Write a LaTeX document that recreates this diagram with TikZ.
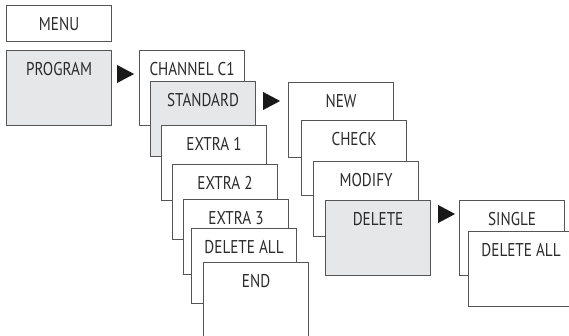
\documentclass[tikz,border=0pt]{standalone}
\usepackage{fontspec}
\setmainfont{PT Sans}[FakeStretch=0.82]
\usetikzlibrary{positioning}
\usetikzlibrary{calc}
\definecolor{boxline}{HTML}{555555}
\definecolor{selfill}{HTML}{E6E7E8}
\definecolor{boxtext}{HTML}{2B2B2B}
\tikzset{
  menubox/.style={draw=boxline, fill=white, line width=1.1pt, anchor=north west,
    minimum width=105pt, inner xsep=0pt, inner ysep=4pt,
    text height=21pt, text depth=46pt, text=boxtext,
    font=\fontsize{18.5}{21}\selectfont},
  selbox/.style={menubox, fill=selfill},
  topbox/.style={menubox, inner ysep=0pt, text height=, text depth=, minimum height=36pt},
  pointer/.style={fill=black!90}
}
\newcommand\pointer[1]{\fill[pointer] #1 -- ++(17,9) -- ++(-17,9) -- cycle;}

\begin{document}
\begin{tikzpicture}[x=1pt,y=-1pt]
  \clip (0,0) rectangle (569,336);
  \node[topbox] (menu) at (6,5) {MENU};
  \node[selbox] (program) at (6,50) {PROGRAM};

  \node[menubox] (channel) at (139,50) {CHANNEL C1};
  \node[selbox] (standard) at (150,81) {STANDARD};
  \node[menubox] (extra1) at (161,125) {EXTRA 1};
  \node[menubox] (extra2) at (172,164) {EXTRA 2};
  \node[menubox] (extra3) at (183,199) {EXTRA 3};
  \node[menubox] (delall) at (191,228) {DELETE ALL};
  \node[menubox] (end) at (203,262) {END};

  \node[menubox] (new) at (288,82) {NEW};
  \node[menubox] (check) at (301,120) {CHECK};
  \node[menubox] (modify) at (313,161) {MODIFY};
  \node[selbox] (delete) at (325,200) {DELETE};

  \node[menubox] (single) at (459,200) {SINGLE};
  \node[menubox] (delall2) at (468,231) {DELETE ALL};

  \pointer{([xshift=5pt,yshift=-15pt]program.north east)}
  \pointer{([xshift=7pt,yshift=-11pt]standard.north east)}
  \pointer{([xshift=7pt,yshift=-5pt]delete.north east)}
\end{tikzpicture}
\end{document}
